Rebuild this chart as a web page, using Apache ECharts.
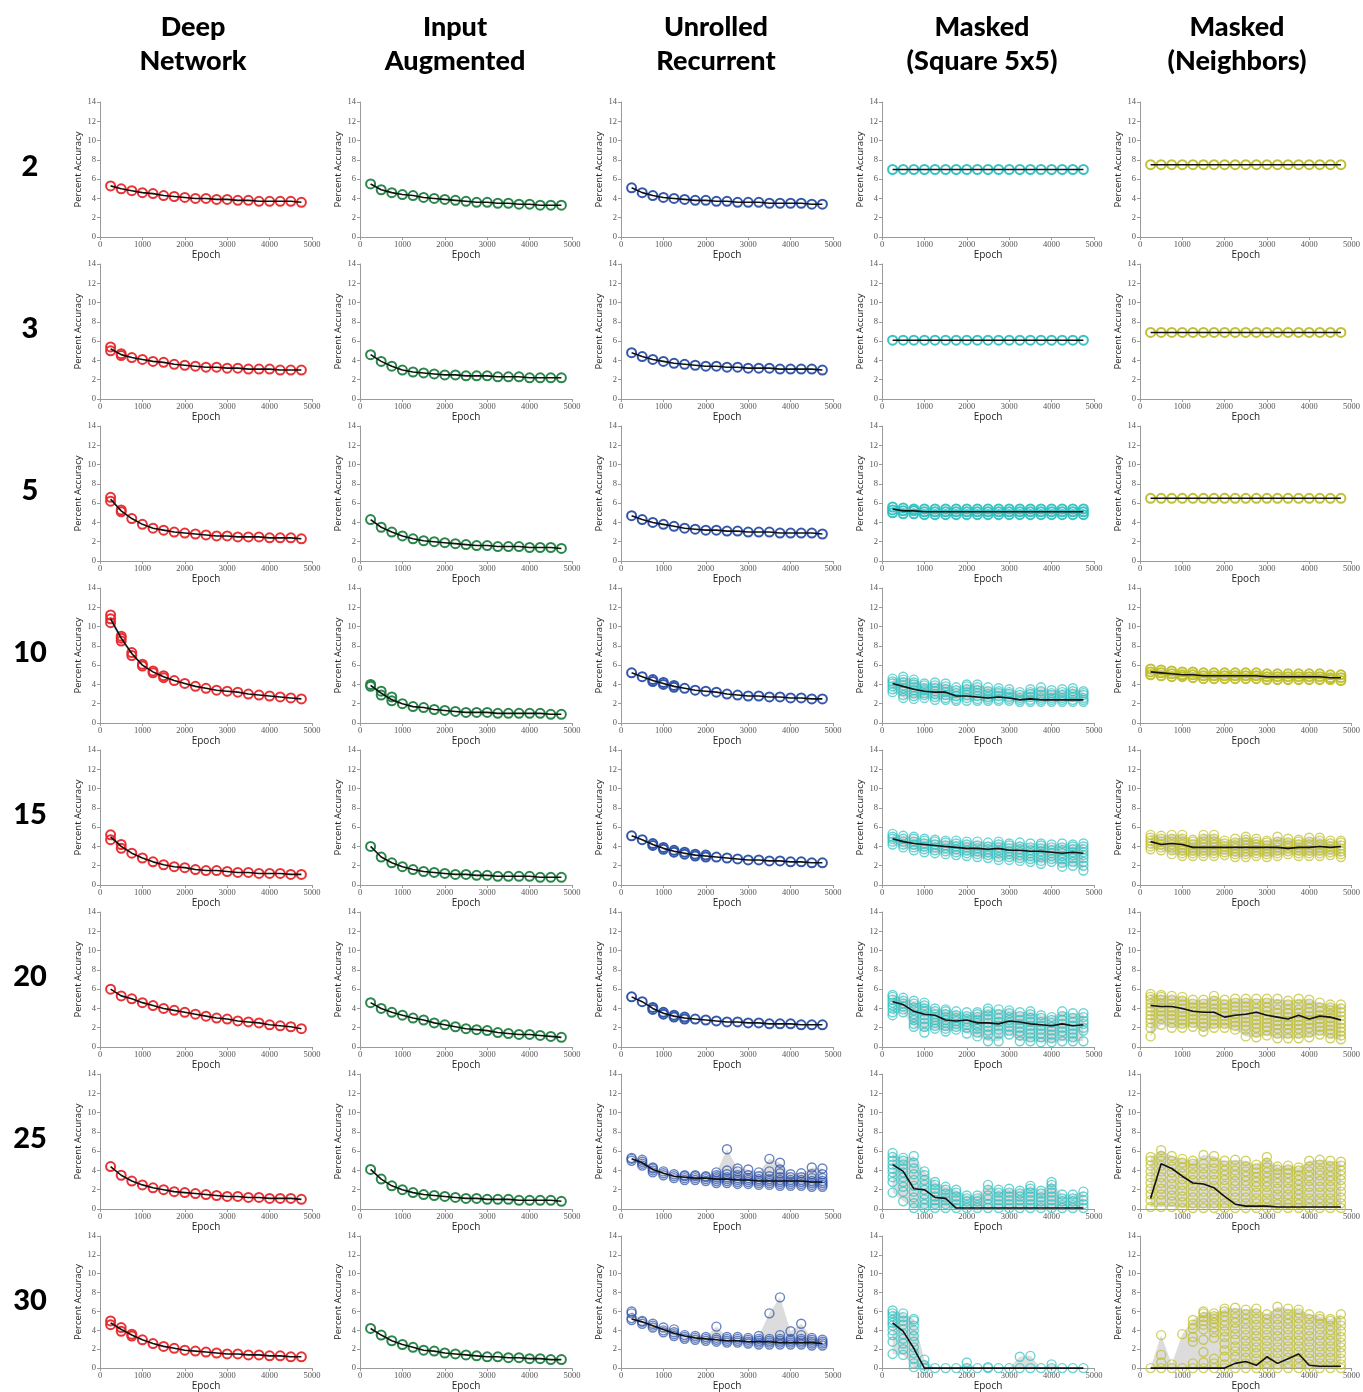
<!DOCTYPE html>
<html><head><meta charset="utf-8">
<script src="https://cdn.jsdelivr.net/npm/echarts@6/dist/echarts.min.js"></script>
<style>html,body{margin:0;padding:0;background:#fff}#c{width:1363px;height:1392px}</style>
</head><body><div id="c"></div>
<script>
// ---------- categories / labels ----------
const epochs = [250,500,750,1000,1250,1500,1750,2000,2250,2500,2750,3000,3250,3500,3750,4000,4250,4500,4750];
const columnTitles = ['Deep\nNetwork','Input\nAugmented','Unrolled\nRecurrent','Masked\n(Square 5x5)','Masked\n(Neighbors)'];
const rowLabels = ['2','3','5','10','15','20','25','30'];
const xTicks = [0,1000,2000,3000,4000,5000];
const yTicks = [0,2,4,6,8,10,12,14];
const seriesColors = ['#e8262b','#1f8040','#2a4ea6','#2cc0c0','#bdbd27'];

// ---------- black line (per column, per row) ----------
const deepNetwork = [
 [5.3,5.0,4.8,4.6,4.5,4.3,4.2,4.1,4.0,4.0,3.9,3.9,3.8,3.8,3.7,3.7,3.7,3.7,3.6],
 [5.2,4.6,4.3,4.1,3.9,3.8,3.6,3.5,3.4,3.3,3.3,3.2,3.2,3.1,3.1,3.1,3.0,3.0,3.0],
 [6.4,5.2,4.4,3.8,3.4,3.2,3.0,2.9,2.8,2.7,2.6,2.6,2.5,2.5,2.5,2.4,2.4,2.4,2.3],
 [10.8,8.8,7.2,6.0,5.3,4.8,4.4,4.1,3.8,3.6,3.4,3.3,3.2,3.0,2.9,2.8,2.7,2.6,2.5],
 [5.0,4.0,3.3,2.8,2.4,2.1,1.9,1.8,1.6,1.5,1.5,1.4,1.3,1.3,1.2,1.2,1.2,1.1,1.1],
 [6.0,5.3,5.0,4.6,4.3,4.0,3.8,3.6,3.4,3.2,3.0,2.9,2.7,2.6,2.5,2.3,2.2,2.1,1.9],
 [4.4,3.5,2.9,2.5,2.2,2.0,1.8,1.7,1.6,1.5,1.4,1.3,1.3,1.2,1.2,1.1,1.1,1.1,1.0],
 [4.8,4.1,3.5,3.0,2.6,2.3,2.1,1.9,1.8,1.7,1.6,1.5,1.5,1.4,1.4,1.3,1.3,1.2,1.2]
];
const inputAugmented = [
 [5.5,4.9,4.6,4.4,4.3,4.1,4.0,3.9,3.8,3.7,3.6,3.6,3.5,3.5,3.4,3.4,3.3,3.3,3.3],
 [4.6,3.9,3.4,3.0,2.8,2.7,2.6,2.5,2.5,2.4,2.4,2.4,2.3,2.3,2.3,2.2,2.2,2.2,2.2],
 [4.3,3.5,3.0,2.6,2.3,2.1,2.0,1.9,1.8,1.7,1.6,1.6,1.5,1.5,1.5,1.4,1.4,1.4,1.3],
 [3.9,3.1,2.4,2.0,1.7,1.6,1.4,1.3,1.2,1.1,1.1,1.1,1.0,1.0,1.0,1.0,1.0,0.9,0.9],
 [4.0,2.9,2.3,1.9,1.6,1.4,1.3,1.2,1.1,1.1,1.0,1.0,0.9,0.9,0.9,0.9,0.8,0.8,0.8],
 [4.6,4.0,3.6,3.3,3.0,2.8,2.5,2.3,2.1,1.9,1.8,1.7,1.5,1.4,1.3,1.3,1.2,1.1,1.0],
 [4.1,3.1,2.4,2.0,1.7,1.5,1.4,1.3,1.2,1.1,1.1,1.0,1.0,1.0,0.9,0.9,0.9,0.9,0.8],
 [4.2,3.5,2.9,2.5,2.2,1.9,1.8,1.6,1.5,1.4,1.3,1.2,1.2,1.1,1.1,1.0,1.0,0.9,0.9]
];
const unrolledRecurrent = [
 [5.1,4.6,4.3,4.1,4.0,3.9,3.8,3.8,3.7,3.7,3.6,3.6,3.6,3.5,3.5,3.5,3.5,3.4,3.4],
 [4.8,4.4,4.1,3.9,3.7,3.6,3.5,3.4,3.4,3.3,3.3,3.2,3.2,3.2,3.1,3.1,3.1,3.1,3.0],
 [4.7,4.3,4.0,3.8,3.6,3.4,3.3,3.2,3.2,3.1,3.1,3.0,3.0,3.0,2.9,2.9,2.9,2.9,2.8],
 [5.2,4.8,4.4,4.1,3.8,3.6,3.4,3.3,3.2,3.0,2.9,2.8,2.8,2.7,2.7,2.6,2.6,2.5,2.5],
 [5.1,4.7,4.2,3.8,3.5,3.3,3.1,3.0,2.9,2.8,2.7,2.6,2.6,2.5,2.5,2.4,2.4,2.3,2.3],
 [5.2,4.7,4.0,3.5,3.2,3.0,2.9,2.8,2.7,2.6,2.6,2.5,2.5,2.4,2.4,2.4,2.3,2.3,2.3],
 [5.2,4.8,4.1,3.7,3.4,3.3,3.2,3.2,3.1,3.1,3.0,3.0,2.9,2.9,2.9,2.9,2.9,2.8,2.8],
 [5.2,4.9,4.5,4.1,3.7,3.4,3.2,3.1,3.0,2.9,2.9,2.8,2.8,2.8,2.7,2.7,2.7,2.7,2.6]
];
const maskedSquare = [
 [7.0,7.0,7.0,7.0,7.0,7.0,7.0,7.0,7.0,7.0,7.0,7.0,7.0,7.0,7.0,7.0,7.0,7.0,7.0],
 [6.1,6.1,6.1,6.1,6.1,6.1,6.1,6.1,6.1,6.1,6.1,6.1,6.1,6.1,6.1,6.1,6.1,6.1,6.1],
 [5.4,5.2,5.2,5.1,5.1,5.1,5.1,5.1,5.1,5.1,5.1,5.1,5.1,5.1,5.1,5.1,5.1,5.1,5.1],
 [4.1,3.8,3.5,3.3,3.2,3.2,2.8,2.8,2.7,2.6,2.7,2.6,2.4,2.5,2.4,2.4,2.4,2.4,2.4],
 [4.8,4.5,4.3,4.2,4.1,4.0,3.9,3.8,3.8,3.7,3.8,3.6,3.6,3.5,3.5,3.4,3.3,3.4,3.3],
 [4.7,4.4,3.7,3.4,3.3,2.8,2.7,2.8,2.5,2.5,2.4,2.7,2.6,2.4,2.3,2.2,2.4,2.2,2.3],
 [4.6,3.9,2.1,2.0,1.2,1.1,0.1,0.1,0.1,0.1,0.1,0.1,0.1,0.1,0.1,0.1,0.1,0.1,0.1],
 [4.8,3.9,2.1,0.0,0.0,0.0,0.0,0.0,0.0,0.0,0.0,0.0,0.0,0.0,0.0,0.0,0.0,0.0,0.0]
];
const maskedNeighbors = [
 [7.5,7.5,7.5,7.5,7.5,7.5,7.5,7.5,7.5,7.5,7.5,7.5,7.5,7.5,7.5,7.5,7.5,7.5,7.5],
 [6.9,6.9,6.9,6.9,6.9,6.9,6.9,6.9,6.9,6.9,6.9,6.9,6.9,6.9,6.9,6.9,6.9,6.9,6.9],
 [6.5,6.5,6.5,6.5,6.5,6.5,6.5,6.5,6.5,6.5,6.5,6.5,6.5,6.5,6.5,6.5,6.5,6.5,6.5],
 [5.3,5.2,5.1,5.0,5.0,4.9,4.9,4.9,4.9,4.9,4.9,4.8,4.8,4.8,4.8,4.8,4.8,4.7,4.7],
 [4.5,4.2,4.3,4.2,3.9,3.9,3.9,3.9,3.9,3.9,3.9,3.9,3.9,3.8,3.9,3.9,4.0,3.9,4.0],
 [4.3,4.2,4.2,4.0,3.7,3.6,3.6,3.1,3.3,3.4,3.6,3.3,3.1,2.9,3.3,2.9,3.2,3.1,2.8],
 [1.1,4.7,4.2,3.4,2.7,2.6,2.2,1.3,0.5,0.3,0.3,0.3,0.2,0.2,0.2,0.2,0.2,0.2,0.2],
 [0.0,0.0,0.0,0.0,0.0,0.0,0.0,0.0,0.5,0.7,0.3,1.2,0.5,1.0,1.5,0.3,0.2,0.2,0.2]
];

// ---------- individual trial circles (columns per epoch, '|' separated) ----------
const deep3Trials = "5.0 5.4|4.5 4.7";
const deep5Trials = "6.2 6.6|5.1 5.3";
const deep10Trials = "10.4 10.8 11.2|8.5 8.8 9.0|7.0 7.3|5.9 6.1|5.2 5.4|4.7 4.9";
const deep15Trials = "4.7 5.2|3.8 4.2";
const deep30Trials = "4.6 5.0|3.9 4.3|3.4 3.6";
const input10Trials = "3.8 4.0|2.9 3.3|2.3 2.7";
const unrolled10Trials = "||4.3 4.5|4.0 4.2|3.7 3.9";
const unrolled15Trials = "||4.1 4.3|3.7 3.9|3.4 3.6|3.2 3.4|3.0 3.2|2.9 3.1";
const unrolled20Trials = "||3.9 4.1|3.4 3.6|3.1 3.3|2.9 3.1";
const unrolled25Trials = "5.0 5.2 5.3|4.5 4.7 4.9 5.1|3.8 4.0 4.2 4.3|3.5 3.7 3.9|3.2 3.4 3.6|3.0 3.2 3.4 3.5|3.0 3.2 3.4 3.5|2.9 3.1 3.3 3.4|2.7 2.9 3.1 3.3 3.5 3.8|2.7 2.9 3.1 3.3 3.6 4.0 6.2|2.6 2.8 3.0 3.2 3.5 3.9 4.2|2.6 2.8 3.0 3.2 3.5 4.1|2.5 2.7 2.9 3.1 3.4 3.8|2.5 2.7 2.9 3.1 3.4 3.9 5.2|2.4 2.6 2.8 3.0 3.3 3.7 4.1 4.8|2.4 2.6 2.8 3.0 3.3 3.6|2.4 2.6 2.8 3.0 3.3 3.7|2.3 2.5 2.7 2.9 3.2 3.6 4.3|2.3 2.5 2.7 2.9 3.2 3.6 4.2";
const unrolled30Trials = "5.1 5.3 5.8 6.0|4.7 4.9 5.0|4.3 4.5 4.7|3.8 4.0 4.3|3.4 3.6 3.8 4.1|3.1 3.3 3.5|3.0 3.2 3.4|2.9 3.1 3.3|2.8 3.0 3.2 4.4|2.7 2.9 3.1 3.3|2.7 2.9 3.1 3.3|2.6 2.8 3.0 3.2|2.5 2.7 2.9 3.1 3.4|2.5 2.7 2.9 3.1 5.8|2.5 2.7 2.9 3.1 3.5 7.5|2.5 2.7 2.9 3.1 3.9|2.5 2.7 2.9 3.1 3.5 4.7|2.4 2.6 2.8 3.0 3.2|2.4 2.6 2.8 3.0";
const square5Trials = "5.0 5.3 5.6|4.9 5.2 5.5|4.9 5.2 5.4|4.8 5.1 5.4|4.8 5.1 5.4|4.8 5.1 5.4|4.8 5.1 5.4|4.8 5.1 5.4|4.8 5.1 5.4|4.8 5.1 5.4|4.8 5.1 5.4|4.8 5.1 5.4|4.8 5.1 5.4|4.8 5.1 5.4|4.8 5.1 5.4|4.8 5.1 5.4|4.8 5.1 5.4|4.8 5.1 5.4|4.8 5.1 5.4";
const square10Trials = "3.2 3.5 3.8 4.1 4.3 4.6|2.6 2.9 3.3 3.6 3.9 4.2 4.5 4.8|2.5 2.8 3.1 3.4 3.7 4.0 4.2 4.5|2.6 2.9 3.1 3.4 3.6 3.9 4.1|2.4 2.7 3.0 3.3 3.6 3.9 4.2|2.4 2.6 2.9 3.2 3.5 3.8 4.1|2.3 2.5 2.8 3.1 3.4 3.7|2.3 2.6 2.9 3.2 3.5 3.8 4.0|2.3 2.5 2.8 3.1 3.4 3.7 4.0|2.3 2.5 2.7 3.0 3.3 3.7|2.3 2.5 2.8 3.1 3.3 3.6|2.3 2.5 2.7 3.0 3.2 3.5|2.2 2.4 2.6 2.9 3.2|2.2 2.4 2.7 3.0 3.2 3.5|2.2 2.4 2.6 2.9 3.3 3.7|2.2 2.4 2.6 2.9 3.1 3.4|2.2 2.4 2.6 2.9 3.2 3.5|2.2 2.4 2.7 3.0 3.3 3.6|2.2 2.4 2.6 2.9 3.1 3.3";
const square15Trials = "4.2 4.5 4.8 5.0 5.3|3.9 4.2 4.5 4.8 5.1|3.6 3.9 4.2 4.5 4.8 5.0|3.4 3.7 4.0 4.3 4.6 4.8|3.3 3.6 3.9 4.2 4.5 4.7|3.2 3.5 3.8 4.1 4.4 4.6|3.1 3.4 3.7 4.0 4.3 4.6|3.0 3.3 3.6 3.9 4.2 4.5|2.9 3.2 3.5 3.8 4.1 4.5|2.8 3.1 3.4 3.7 4.0 4.4|2.6 2.9 3.3 3.6 3.9 4.2 4.5|2.6 2.9 3.2 3.5 3.8 4.1 4.3|2.5 2.8 3.1 3.4 3.7 4.0 4.4|2.4 2.7 3.0 3.3 3.6 3.9 4.3|2.2 2.5 2.9 3.2 3.5 3.8 4.1 4.3|2.4 2.7 3.0 3.3 3.6 3.9 4.2|1.9 2.3 2.7 3.0 3.3 3.6 3.9 4.3|2.0 2.4 2.8 3.1 3.4 3.7 4.0 4.2|1.5 2.0 2.4 2.8 3.1 3.4 3.7 4.0 4.3";
const square20Trials = "3.3 3.6 4.0 4.3 4.6 4.9 5.2 5.4|3.6 3.9 4.2 4.5 4.8 5.1|2.1 2.4 2.8 3.1 3.4 3.8 4.1 4.5 4.8|1.5 2.1 2.5 2.9 3.3 3.7 4.0 4.3 4.6|1.9 2.2 2.5 2.8 3.1 3.4 3.7 4.0|1.6 1.9 2.2 2.5 2.8 3.1 3.4 3.7 3.9|1.8 2.1 2.4 2.7 3.0 3.3 3.7|1.4 2.0 2.3 2.6 2.9 3.2 3.6|1.1 1.5 1.9 2.2 2.5 2.8 3.1 3.4 3.6|0.6 1.3 1.7 2.1 2.5 2.9 3.3 3.7 4.0|0.6 1.4 1.8 2.2 2.6 3.0 3.4 3.9|1.3 1.7 2.1 2.5 2.8 3.1 3.5 3.8|0.6 1.2 1.6 2.0 2.4 2.8 3.2 3.6|0.6 1.0 1.4 1.8 2.2 2.6 3.0 3.4 3.7|0.5 1.0 1.4 1.8 2.2 2.6 3.0 3.3|0.5 0.9 1.3 1.7 2.1 2.5 2.8 3.1|0.6 1.2 1.6 2.0 2.4 2.8 3.2 3.7|0.6 1.0 1.4 1.8 2.2 2.6 3.0 3.5|0.6 1.7 2.0 2.4 2.7 3.1 3.5";
const square25Trials = "1.7 2.8 3.3 3.8 4.2 4.6 5.0 5.4 5.8|0.8 1.8 2.3 2.8 3.3 3.8 4.2 4.6 5.0 5.3|0.1 0.6 1.2 1.8 2.4 3.0 3.6 4.2 4.8 5.5|0.1 0.5 1.0 1.5 2.0 2.5 3.0 3.5 3.9|0.1 0.5 0.9 1.3 1.7 2.1 2.5 2.8|0.1 0.5 0.9 1.2 1.6 2.0 2.3|0.1 0.5 0.9 1.3 1.7 2.0|0.1 0.4 0.8 1.1 1.4|0.1 0.4 0.8 1.1 1.4|0.1 0.5 1.0 1.4 2.0 2.5|0.1 0.5 0.9 1.3 1.7 2.0|0.1 0.5 0.9 1.3 1.7 2.1|0.1 0.5 0.9 1.3 1.6 1.9|0.1 0.5 0.9 1.3 1.7 2.1 2.4|0.1 0.4 0.8 1.2 1.6 1.9|0.1 0.5 0.9 1.3 1.7 2.1 2.5 2.8|0.1 0.4 0.8 1.1 1.5|0.1 0.4 0.8 1.1 1.5|0.1 0.5 0.9 1.3 1.8";
const square30Trials = "1.5 2.8 3.5 4.0 4.5 4.8 5.1 5.5 5.8 6.1|1.4 2.0 2.6 3.1 3.6 4.1 4.6 5.0 5.4 5.8|0.1 0.5 1.0 1.6 2.2 2.8 3.4 4.0 4.5 5.0 5.2|0.0 0.3 0.9|0.0|0.0|0.0|0.0 0.6|0.0|0.0 0.1|0.0|0.0|0.0 1.2|0.0 1.3|0.0|0.0 0.4|0.0|0.0|0.0";
const neighbors10Trials = "5.0 5.3 5.6|4.9 5.2 5.5|4.8 5.1 5.4|4.8 5.0 5.3|4.7 5.0 5.3|4.6 4.9 5.2|4.6 4.9 5.2|4.6 4.9 5.2|4.6 4.9 5.2|4.6 4.9 5.2|4.6 4.9 5.2|4.5 4.8 5.1|4.5 4.8 5.1|4.5 4.8 5.1|4.5 4.8 5.1|4.5 4.8 5.1|4.5 4.8 5.1|4.5 4.7 5.0|4.4 4.7 5.0";
const neighbors15Trials = "3.7 4.0 4.3 4.6 4.9 5.2|3.6 3.9 4.2 4.5 4.8 5.1|3.2 3.6 3.9 4.2 4.5 4.8 5.2|3.0 3.3 3.6 3.9 4.2 4.5 4.8 5.2|3.0 3.3 3.6 3.9 4.2 4.5 4.7|3.0 3.3 3.6 3.9 4.2 4.5 4.8 5.2|3.0 3.3 3.6 3.9 4.2 4.5 4.8 5.2|3.1 3.4 3.7 4.0 4.3 4.6|2.9 3.2 3.5 3.8 4.1 4.4 4.8|2.9 3.2 3.5 3.8 4.1 4.4 4.7 5.0|3.0 3.3 3.6 3.9 4.2 4.5 4.8|2.9 3.2 3.5 3.8 4.1 4.4 4.6|3.0 3.3 3.6 3.9 4.2 4.5 5.0|3.2 3.5 3.8 4.1 4.4 4.8|3.0 3.3 3.6 3.9 4.2 4.5 4.7|3.0 3.3 3.6 3.9 4.2 4.5 4.9|3.0 3.3 3.6 3.9 4.2 4.6 4.9|3.1 3.4 3.7 4.0 4.3 4.6|2.9 3.2 3.5 3.8 4.1 4.4 4.6";
const neighbors20Trials = "1.1 2.0 2.5 2.9 3.3 3.7 4.1 4.5 4.9 5.2 5.5|2.3 2.9 3.3 3.7 4.1 4.5 4.9 5.2 5.4|2.0 2.5 2.9 3.3 3.7 4.1 4.5 4.9 5.3|2.0 2.4 2.8 3.2 3.6 4.0 4.4 4.8 5.2|2.1 2.5 2.9 3.3 3.7 4.1 4.5 4.9|1.6 2.1 2.5 2.9 3.3 3.7 4.1 4.5 4.9|2.0 2.4 2.8 3.2 3.6 4.0 4.4 4.8 5.3|2.0 2.4 2.8 3.2 3.6 4.0 4.4 4.9|1.8 2.2 2.6 3.0 3.4 3.8 4.2 4.6 5.0|1.1 1.8 2.2 2.6 3.0 3.4 3.8 4.2 4.6 5.0|1.0 1.5 2.0 2.4 2.8 3.2 3.6 4.0 4.5 5.0|1.2 1.7 2.1 2.5 2.9 3.3 3.7 4.1 4.6 5.0|0.9 1.4 1.9 2.3 2.7 3.1 3.5 3.9 4.4 5.0|0.9 1.4 1.9 2.3 2.7 3.1 3.5 3.9 4.4 4.8|0.9 1.4 1.9 2.3 2.7 3.1 3.5 3.9 4.4 5.0|1.0 1.5 2.0 2.4 2.8 3.2 3.6 4.0 4.5 4.9|1.3 1.7 2.1 2.5 2.9 3.3 3.7 4.1 4.6|0.9 1.4 1.8 2.2 2.6 3.0 3.4 3.8 4.1 4.4|0.8 1.2 1.6 2.0 2.4 2.8 3.2 3.6 4.0 4.4";
const neighbors25Trials = "0.2 0.9 1.5 2.1 2.7 3.3 3.9 4.5 5.0 5.4|0.2 0.9 1.5 2.1 2.7 3.3 3.9 4.5 5.0 5.5 6.1|0.2 0.8 1.4 2.0 2.6 3.2 3.8 4.4 5.0 5.5|0.1 0.7 1.3 1.9 2.5 3.1 3.7 4.3 4.8 5.2|0.1 0.6 1.2 1.8 2.4 3.0 3.6 4.2 4.7 5.0|0.1 0.6 1.2 1.8 2.4 3.0 3.6 4.2 4.7 5.6|0.1 0.6 1.2 1.8 2.4 3.0 3.6 4.2 4.8 5.5|0.1 0.6 1.2 1.8 2.4 3.0 3.5 4.0 4.5 5.0|0.1 0.6 1.2 1.8 2.4 2.9 3.5 4.0 4.5 5.1|0.1 0.6 1.2 1.8 2.4 2.9 3.4 3.9 4.4 5.0|0.1 0.6 1.1 1.7 2.3 2.8 3.3 3.8 4.2 4.6|0.1 0.6 1.1 1.7 2.3 2.8 3.3 3.8 4.3 4.8 5.4|0.1 0.5 1.0 1.5 2.1 2.7 3.2 3.7 4.1 4.4|0.1 0.5 1.0 1.5 2.1 2.7 3.2 3.7 4.1 4.5|0.1 0.5 1.0 1.5 2.0 2.5 3.0 3.5 4.0 4.3|0.1 0.6 1.1 1.7 2.3 2.9 3.4 3.9 4.4 5.0|0.1 0.6 1.1 1.7 2.3 2.9 3.5 4.0 4.6 5.1|0.1 0.6 1.1 1.7 2.3 2.9 3.4 3.9 4.4 5.0|0.1 0.6 1.2 1.8 2.4 3.0 3.5 4.0 4.5 4.9";
const neighbors30Trials = "0.0|0.0 0.6 1.4 3.5|0.0 0.4|0.0 3.6|0.0 0.5 2.8 3.3 4.2 4.6 5.1|0.0 0.6 1.7 3.0 4.1 4.6 5.0 5.4 5.8 6.0|0.0 0.5 1.0 3.2 3.8 4.3 4.8 5.2 5.5 5.8|0.0 0.4 1.2 1.9 2.6 3.3 3.9 4.5 5.0 5.5 6.0 6.3|0.0 0.5 1.2 1.8 2.3 3.0 3.6 4.2 4.8 5.3 5.8 6.4|0.0 0.5 1.1 1.7 2.3 2.9 3.5 4.1 4.7 5.2 5.7 6.2|0.0 0.4 1.0 1.6 2.2 2.8 3.4 4.0 4.6 5.2 5.8 6.3|0.0 0.5 1.1 1.7 2.3 2.9 3.5 4.1 4.7 5.2 5.7|0.0 0.4 1.0 1.6 2.2 2.8 3.4 4.0 4.6 5.2 5.8 6.5|0.0 0.5 1.1 1.7 2.3 2.9 3.5 4.1 4.7 5.2 5.7 6.3|0.0 0.5 1.1 1.7 2.3 2.9 3.5 4.1 4.7 5.3 5.8 6.2|0.0 0.4 1.0 1.6 2.2 2.8 3.4 4.0 4.6 5.2 5.7|0.0 0.5 1.1 1.7 2.3 2.9 3.5 4.1 4.7 5.2 5.5|0.0 0.5 1.1 1.7 2.3 2.9 3.5 4.0 4.5 5.0 5.2|0.0 0.4 1.0 1.6 2.2 2.7 3.3 3.9 4.5 5.0 5.7";

// column index - row index -> trial columns
const trialLookup = {
 '0-1': deep3Trials, '0-2': deep5Trials, '0-3': deep10Trials, '0-4': deep15Trials, '0-7': deep30Trials,
 '1-3': input10Trials,
 '2-3': unrolled10Trials, '2-4': unrolled15Trials, '2-5': unrolled20Trials, '2-6': unrolled25Trials, '2-7': unrolled30Trials,
 '3-2': square5Trials, '3-3': square10Trials, '3-4': square15Trials, '3-5': square20Trials, '3-6': square25Trials, '3-7': square30Trials,
 '4-3': neighbors10Trials, '4-4': neighbors15Trials, '4-5': neighbors20Trials, '4-6': neighbors25Trials, '4-7': neighbors30Trials
};
const lineTable = [deepNetwork, inputAugmented, unrolledRecurrent, maskedSquare, maskedNeighbors];

function trialColumns(str, mean) {
  const cols = str ? str.split('|') : [];
  return mean.map((m, i) => {
    const s = (cols[i] || '').trim();
    return s ? s.split(/\s+/).map(Number) : [m];
  });
}

// ---------- layout ----------
const gridLeft = [100, 360, 621, 882, 1140];
const headerX = [193, 455, 716, 982, 1237];
const gridTop0 = 102, rowStep = 162, gw = 212, gh = 135;
const axisGrey = '#9a9a9a';
const tickFont = {fontSize: 8.5, color: '#555', fontFamily: 'Liberation Serif', formatter: v => String(v)};
const nameFont = {fontSize: 10, color: '#222', fontFamily: 'Open Sans'};

const grids = [], xAxes = [], yAxes = [], series = [];
for (let r = 0; r < rowLabels.length; r++) {
  for (let c = 0; c < 5; c++) {
    const idx = grids.length;
    grids.push({left: gridLeft[c], top: gridTop0 + rowStep * r, width: gw, height: gh});
    xAxes.push({
      gridIndex: idx, type: 'value', min: xTicks[0], max: xTicks[xTicks.length - 1], interval: 1000,
      name: 'Epoch', nameLocation: 'middle', nameGap: 11, nameTextStyle: nameFont,
      axisLine: {show: true, lineStyle: {color: axisGrey, width: 1}},
      axisTick: {show: true, length: 3, lineStyle: {color: axisGrey}},
      axisLabel: Object.assign({margin: 3}, tickFont),
      splitLine: {show: false}
    });
    yAxes.push({
      gridIndex: idx, type: 'value', min: yTicks[0], max: yTicks[yTicks.length - 1], interval: 2,
      name: 'Percent Accuracy', nameLocation: 'middle', nameGap: 12,
      nameTextStyle: Object.assign({}, nameFont, {fontSize: 9.5}),
      axisLine: {show: true, lineStyle: {color: axisGrey, width: 1}},
      axisTick: {show: true, length: 3, lineStyle: {color: axisGrey}},
      axisLabel: Object.assign({margin: 4}, tickFont),
      splitLine: {show: false}
    });
    const mean = lineTable[c][r];
    const cols = trialColumns(trialLookup[c + '-' + r], mean);
    const lo = cols.map(a => Math.min.apply(null, a));
    const hi = cols.map(a => Math.max.apply(null, a));
    const maxCount = Math.max.apply(null, cols.map(a => a.length));
    if (hi.some((h, i) => h - lo[i] > 0.05)) {
      const bandData = epochs.map((x, i) => [x, lo[i], hi[i]]);
      series.push({
        type: 'custom', xAxisIndex: idx, yAxisIndex: idx, silent: true, z: 1, clip: false,
        data: [[0]],
        renderItem: function (params, api) {
          const top = bandData.map(d => api.coord([d[0], d[2]]));
          const bot = bandData.slice().reverse().map(d => api.coord([d[0], d[1]]));
          return {type: 'polygon', shape: {points: top.concat(bot)}, style: {fill: '#dcdcdc', stroke: null}};
        }
      });
    }
    const pts = [];
    cols.forEach((a, i) => a.forEach(v => pts.push([epochs[i], v])));
    const dense = maxCount >= 4;
    series.push({
      type: 'scatter', xAxisIndex: idx, yAxisIndex: idx, clip: false, z: 2,
      symbol: 'circle', symbolSize: 9,
      itemStyle: {color: 'rgba(0,0,0,0)', borderColor: seriesColors[c],
        borderWidth: dense ? 1.4 : 2, opacity: dense ? 0.7 : 0.95},
      data: pts
    });
    series.push({
      type: 'line', xAxisIndex: idx, yAxisIndex: idx, z: 3, symbol: 'none', silent: true,
      lineStyle: {color: '#111', width: 1.6},
      data: epochs.map((x, i) => [x, mean[i]])
    });
  }
}

const graphics = [];
columnTitles.forEach((t, c) => graphics.push({
  type: 'text', x: headerX[c], y: 10,
  style: {text: t, font: '900 27px Lato', fill: '#000', textAlign: 'center', textVerticalAlign: 'top', lineHeight: 34}
}));
rowLabels.forEach((t, r) => graphics.push({
  type: 'text', x: 30, y: gridTop0 + rowStep * r + 65,
  style: {text: t, font: '900 29px Lato', fill: '#000', textAlign: 'center', textVerticalAlign: 'middle'}
}));

const chart = echarts.init(document.getElementById('c'));
chart.setOption({
  animation: false,
  backgroundColor: '#fff',
  grid: grids, xAxis: xAxes, yAxis: yAxes, series: series,
  graphic: graphics
});
</script></body></html>
